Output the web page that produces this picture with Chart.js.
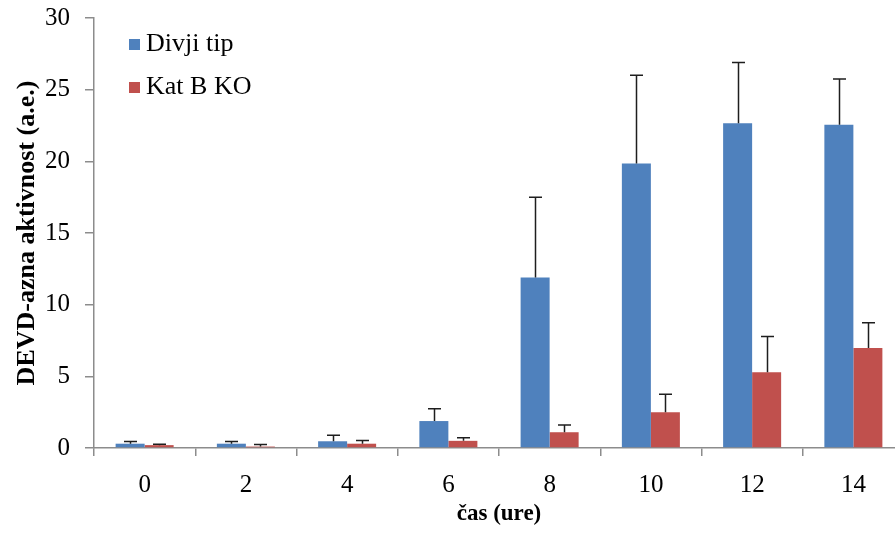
<!DOCTYPE html>
<html>
<head>
<meta charset="utf-8">
<script src="https://cdn.jsdelivr.net/npm/chart.js@4.4.1/dist/chart.umd.min.js"></script>
<style>
    html, body { margin: 0; padding: 0; background: #fff; }
    #wrap { width: 895px; height: 533px; overflow: hidden; }
</style>
</head>
<body>
<div id="wrap">
    <canvas id="activityChart" width="910" height="533"></canvas>
</div>
<script>
// Time points (hours)
const hours = ['0', '2', '4', '6', '8', '10', '12', '14'];

// DEVD-ase activity, wild type
const wildType = [0.3, 0.3, 0.47, 1.88, 11.9, 19.85, 22.65, 22.55];
const wildTypeErr = [0.15, 0.15, 0.42, 0.86, 5.6, 6.15, 4.25, 3.2];

// DEVD-ase activity, cathepsin B knockout
const katBKO = [0.2, 0.1, 0.3, 0.5, 1.1, 2.5, 5.28, 6.98];
const katBKOErr = [0.06, 0.15, 0.22, 0.22, 0.5, 1.25, 2.5, 1.75];

const yTicks = [0, 5, 10, 15, 20, 25, 30];

const serif = "'Liberation Serif', 'Times New Roman', serif";
const axisGray = '#8c8c8c';

// draws the upper error bars on top of each bar
const errorBarPlugin = {
    id: 'errorBars',
    afterDatasetsDraw(chart) {
        const ctx = chart.ctx;
        const yScale = chart.scales.y;
        ctx.save();
        ctx.strokeStyle = '#1e1e1e';
        ctx.lineWidth = 1.5;
        chart.data.datasets.forEach((ds, di) => {
            const meta = chart.getDatasetMeta(di);
            meta.data.forEach((bar, i) => {
                const top = yScale.getPixelForValue(ds.data[i] + ds.errors[i]);
                const x = Math.round(bar.x) + 0.5;
                ctx.beginPath();
                ctx.moveTo(x, bar.y);
                ctx.lineTo(x, top);
                ctx.moveTo(x - 6.5, top);
                ctx.lineTo(x + 6.5, top);
                ctx.stroke();
            });
        });
        ctx.restore();
    }
};

// legend sits inside the plot area, top left
const insideLegend = {
    id: 'insideLegend',
    afterDraw(chart) {
        const ctx = chart.ctx;
        ctx.save();
        ctx.font = '26px ' + serif;
        ctx.textBaseline = 'middle';
        chart.data.datasets.forEach((ds, i) => {
            const y = 44 + i * 43;
            ctx.fillStyle = ds.backgroundColor;
            ctx.fillRect(129, y - 5, 11, 11);
            ctx.fillStyle = '#000';
            ctx.fillText(ds.label, 146, y);
        });
        ctx.restore();
    }
};

const ctx = document.getElementById('activityChart').getContext('2d');

new Chart(ctx, {
    type: 'bar',
    data: {
        labels: hours,
        datasets: [{
            label: 'Divji tip',
            data: wildType,
            errors: wildTypeErr,
            backgroundColor: '#4F81BD',
            categoryPercentage: 0.573,
            barPercentage: 1.0
        }, {
            label: 'Kat B KO',
            data: katBKO,
            errors: katBKOErr,
            backgroundColor: '#C0504D',
            categoryPercentage: 0.573,
            barPercentage: 1.0
        }]
    },
    options: {
        responsive: false,
        animation: false,
        devicePixelRatio: 1,
        layout: {
            padding: { top: 18, right: 6, bottom: 0, left: 0 }
        },
        plugins: {
            legend: { display: false },
            tooltip: { enabled: false }
        },
        scales: {
            x: {
                afterFit: function(scale) { scale.height = 85; },
                grid: {
                    drawOnChartArea: false,
                    drawTicks: true,
                    tickLength: 8,
                    color: axisGray,
                    lineWidth: 1.5
                },
                border: { color: axisGray, width: 1.5 },
                ticks: {
                    color: '#000',
                    padding: 14,
                    font: { family: serif, size: 25 }
                },
                title: {
                    display: true,
                    text: 'čas (ure)',
                    color: '#000',
                    padding: { top: 0, bottom: 5 },
                    font: { family: serif, size: 23, weight: 'bold' }
                }
            },
            y: {
                min: 0,
                max: 30,
                afterFit: function(scale) {
                    scale.width = 94;
                    scale.paddingTop = 0;
                    scale.paddingBottom = 0;
                },
                afterBuildTicks: function(scale) {
                    scale.ticks = yTicks.map(v => ({ value: v }));
                },
                grid: {
                    drawOnChartArea: false,
                    drawTicks: true,
                    tickLength: 9,
                    color: axisGray,
                    lineWidth: 1.5
                },
                border: { color: axisGray, width: 1.5 },
                ticks: {
                    color: '#000',
                    padding: 15,
                    font: { family: serif, size: 25 }
                },
                title: {
                    display: true,
                    text: 'DEVD-azna aktivnost (a.e.)',
                    color: '#000',
                    padding: { top: 12, bottom: 0 },
                    font: { family: serif, size: 26, weight: 'bold' }
                }
            }
        }
    },
    plugins: [errorBarPlugin, insideLegend]
});
</script>
</body>
</html>
